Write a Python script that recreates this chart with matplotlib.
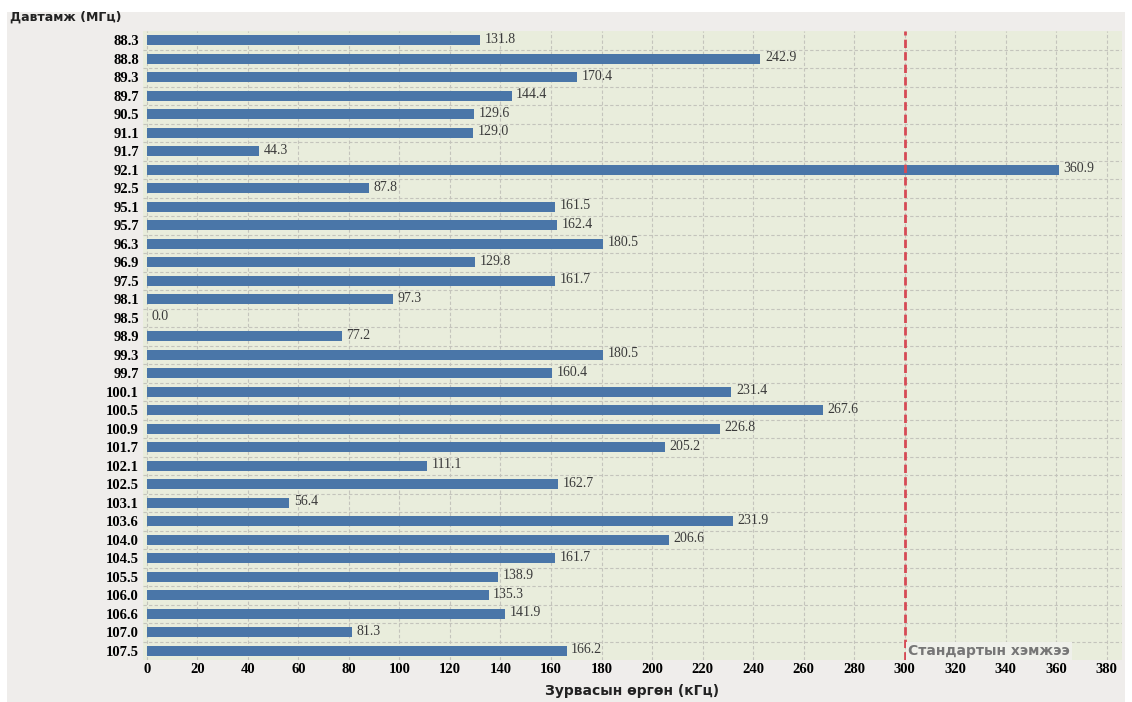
import matplotlib.pyplot as plt
from matplotlib.patches import Rectangle

freqs = ["88.3", "88.8", "89.3", "89.7", "90.5", "91.1", "91.7", "92.1", "92.5", "95.1",
         "95.7", "96.3", "96.9", "97.5", "98.1", "98.5", "98.9", "99.3", "99.7", "100.1",
         "100.5", "100.9", "101.7", "102.1", "102.5", "103.1", "103.6", "104.0", "104.5",
         "105.5", "106.0", "106.6", "107.0", "107.5"]
widths = [131.8, 242.9, 170.4, 144.4, 129.6, 129.0, 44.3, 360.9, 87.8, 161.5,
          162.4, 180.5, 129.8, 161.7, 97.3, 0.0, 77.2, 180.5, 160.4, 231.4,
          267.6, 226.8, 205.2, 111.1, 162.7, 56.4, 231.9, 206.6, 161.7,
          138.9, 135.3, 141.9, 81.3, 166.2]
standard = 300

fig = plt.figure(figsize=(11.32, 7.02), dpi=100)
fig.patch.set_facecolor("white")
fig.add_artist(Rectangle((7 / 1132, 0), 1 - 14 / 1132, 1 - 12 / 702,
                         transform=fig.transFigure, facecolor="#efedeb",
                         edgecolor="none", zorder=0))

ax = fig.add_axes([143 / 1132, 42 / 702, (1122 - 143) / 1132, (671 - 42) / 702])
ax.set_facecolor("#e9eddc")

y = list(range(len(freqs)))
ax.barh(y, widths, height=0.55, color="#4a76a8", zorder=3)
for yi, w in zip(y, widths):
    ax.text(w + 1.8, yi - 0.05, f"{w:.1f}", va="center", ha="left", fontsize=10,
            family="Liberation Serif", color="#3a3a3a", zorder=4)

ax.set_ylim(len(freqs) - 0.5, -0.5)
ax.set_xlim(-1.5, 386)
ax.set_yticks(y)
ax.set_yticklabels(freqs, family="Liberation Serif", fontweight="bold", fontsize=10.5)
ax.set_xticks(range(0, 381, 20))
ax.set_xticklabels([str(v) for v in range(0, 381, 20)], family="Liberation Serif",
                   fontweight="bold", fontsize=10.5)
ax.set_yticks([i + 0.5 for i in y[:-1]], minor=True)
ax.tick_params(axis="both", length=0, pad=3)
ax.tick_params(axis="x", pad=2)
ax.tick_params(which="minor", length=0)

ax.grid(axis="x", which="major", color="#c4c4bc", linestyle=(0, (3, 2)), linewidth=0.8, zorder=1)
ax.grid(axis="y", which="minor", color="#c4c4bc", linestyle=(0, (3, 2)), linewidth=0.8, zorder=1)
for s in ax.spines.values():
    s.set_visible(False)

ax.axvline(standard, color="#d64a55", linestyle=(0, (3, 1.5)), linewidth=2, zorder=5)
ax.text(standard + 1.2, len(freqs) - 1, "Стандартын хэмжээ", va="center", ha="left",
        fontsize=10, fontweight="bold", color="#767676", family="DejaVu Sans",
        bbox=dict(facecolor="#eff0ea", edgecolor="none", pad=1.5), zorder=6)

fig.text(10 / 1132, 1 - 17 / 702, "Давтамж (МГц)", ha="left", va="center",
         fontsize=9, fontweight="bold", family="DejaVu Sans", color="#222222")
fig.text(632 / 1132, 1 - 691 / 702, "Зурвасын өргөн (кГц)", ha="center", va="center",
         fontsize=10, fontweight="bold", family="DejaVu Sans", color="#222222")

fig.savefig("out.png", dpi=100, facecolor=fig.get_facecolor())
